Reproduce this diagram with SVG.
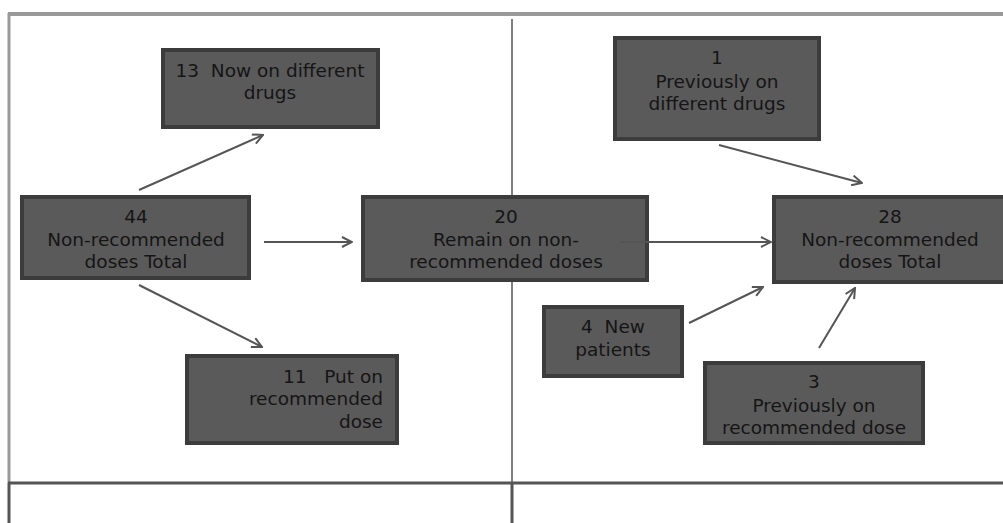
<svg xmlns="http://www.w3.org/2000/svg" width="1003" height="523" viewBox="0 0 1003 523">
<style>
.box{fill:#5a5a5a;stroke:#3c3c3c;stroke-width:4}
.t{font-family:"DejaVu Sans","Liberation Sans",sans-serif;font-size:18.5px;fill:#151515;text-anchor:middle}
.r{text-anchor:end}
.c{fill:none;stroke:#555;stroke-width:2;marker-end:url(#ah)}
</style>
<defs>
<marker id="ah" viewBox="0 0 12 12" refX="11" refY="6" markerWidth="12" markerHeight="12" markerUnits="userSpaceOnUse" orient="auto">
<path d="M1,1 L11,6 L1,11" fill="none" stroke="#555" stroke-width="2"/>
</marker>
</defs>
<rect width="1003" height="523" fill="#fff"/>
<g id="frame">
<line x1="8" y1="14" x2="1003" y2="14" stroke="#999" stroke-width="4"/>
<line x1="9" y1="13" x2="9" y2="483" stroke="#999" stroke-width="3"/>
<line x1="9" y1="483" x2="9" y2="523" stroke="#555" stroke-width="3"/>
<line x1="512" y1="19" x2="512" y2="483" stroke="#555" stroke-width="1.5"/>
<line x1="512" y1="483" x2="512" y2="523" stroke="#555" stroke-width="3"/>
<line x1="8" y1="483" x2="1003" y2="483" stroke="#555" stroke-width="3"/>
</g>
<g id="n13">
<rect class="box" x="163" y="50" width="215" height="77"/>
<text class="t" x="270" y="77" xml:space="preserve">13  Now on different</text>
<text class="t" x="270" y="99">drugs</text>
</g>
<g id="n44">
<rect class="box" x="22" y="197" width="227" height="81"/>
<text class="t" x="136" y="223">44</text>
<text class="t" x="136" y="246">Non-recommended</text>
<text class="t" x="136" y="268">doses Total</text>
</g>
<g id="n20">
<rect class="box" x="363" y="197" width="284" height="83"/>
<text class="t" x="506" y="223">20</text>
<text class="t" x="506" y="246">Remain on non-</text>
<text class="t" x="506" y="268">recommended doses</text>
</g>
<g id="n11">
<rect class="box" x="187" y="356" width="210" height="87"/>
<text class="t r" x="383" y="383" xml:space="preserve">11   Put on</text>
<text class="t r" x="383" y="405">recommended</text>
<text class="t r" x="383" y="428">dose</text>
</g>
<g id="n1">
<rect class="box" x="615" y="38" width="204" height="101"/>
<text class="t" x="717" y="64">1</text>
<text class="t" x="717" y="88">Previously on</text>
<text class="t" x="717" y="110">different drugs</text>
</g>
<g id="n28">
<rect class="box" x="774" y="197" width="240" height="85"/>
<text class="t" x="890" y="223">28</text>
<text class="t" x="890" y="246">Non-recommended</text>
<text class="t" x="890" y="268">doses Total</text>
</g>
<g id="n4">
<rect class="box" x="544" y="307" width="138" height="69"/>
<text class="t" x="613" y="333" xml:space="preserve">4  New</text>
<text class="t" x="613" y="356">patients</text>
</g>
<g id="n3">
<rect class="box" x="705" y="363" width="218" height="80"/>
<text class="t" x="814" y="388">3</text>
<text class="t" x="814" y="412">Previously on</text>
<text class="t" x="814" y="434">recommended dose</text>
</g>
<g id="connectors">
<line class="c" x1="139" y1="190" x2="263" y2="135"/>
<line class="c" x1="264" y1="242" x2="352" y2="242"/>
<line class="c" x1="139" y1="285" x2="262" y2="347"/>
<line class="c" x1="620" y1="242" x2="771" y2="242"/>
<line class="c" x1="719" y1="145" x2="862" y2="183"/>
<line class="c" x1="689" y1="323" x2="763" y2="287"/>
<line class="c" x1="819" y1="348" x2="855" y2="288"/>
</g>
</svg>
